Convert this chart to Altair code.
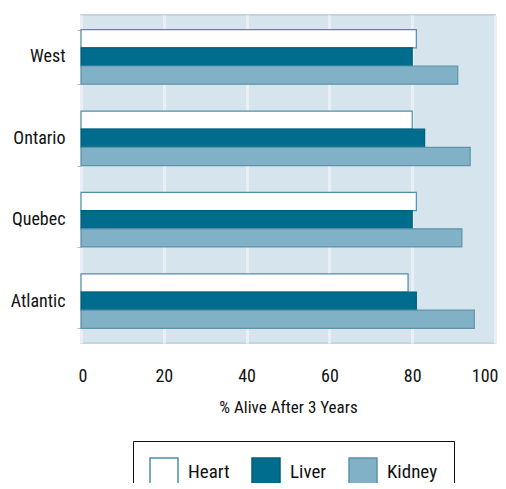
import altair as alt
import pandas as pd

regions = ["West", "Ontario", "Quebec", "Atlantic"]
organs = ["Heart", "Liver", "Kidney"]
heart = [81, 80, 81, 79]
liver = [80, 83, 80, 81]
kidney = [91, 94, 92, 95]

rows = []
for i, r in enumerate(regions):
    for o, vals in zip(organs, [heart, liver, kidney]):
        rows.append({"region": r, "organ": o, "value": vals[i]})
df = pd.DataFrame(rows)

FONT = "Roboto Condensed, Liberation Sans Narrow, DejaVu Sans Condensed, sans-serif"

fill_scale = alt.Scale(domain=organs, range=["#ffffff", "#006d8f", "#80b1c6"])
stroke_scale = alt.Scale(domain=organs, range=["#4f8ea8", "#005f7d", "#5f93aa"])

chart = alt.Chart(df).mark_bar(strokeWidth=1.2).encode(
    y=alt.Y("region:N", sort=regions, title=None,
            scale=alt.Scale(paddingInner=0.33, paddingOuter=0.18),
            axis=alt.Axis(labelFontSize=18, labelFont=FONT, labelColor="#111111",
                          labelFontWeight="normal",
                          domain=False, ticks=True, tickColor="#bbbbbb", tickSize=4,
                          tickBand="extent", labelPadding=12)),
    yOffset=alt.YOffset("organ:N", sort=organs, scale=alt.Scale(paddingInner=0, paddingOuter=0)),
    x=alt.X("value:Q", title="% Alive After 3 Years",
            scale=alt.Scale(domain=[0, 100], nice=False),
            axis=alt.Axis(values=[0, 20, 40, 60, 80, 100], labelFontSize=18, labelFont=FONT,
                          labelColor="#111111", labelFontWeight="normal",
                          titleFont=FONT, titleFontSize=17,
                          titleFontWeight="normal", titleColor="#111111", titlePadding=14,
                          domain=False, ticks=False, labelPadding=24,
                          grid=True, gridColor="#e8f0f5", gridWidth=3,
                          labelFlush=True, labelFlushOffset=3)),
    fill=alt.Fill("organ:N", scale=fill_scale, sort=organs,
                  legend=alt.Legend(title=None, orient="none", legendX=52, legendY=426,
                                    direction="horizontal", symbolType="square",
                                    symbolSize=784, symbolStrokeWidth=1.5,
                                    labelFontSize=19, labelFont=FONT, labelColor="#111111",
                                    labelOffset=9, columnPadding=19, padding=16,
                                    strokeColor="#111111", fillColor="#ffffff",
                                    symbolOpacity=1)),
    stroke=alt.Stroke("organ:N", scale=stroke_scale, sort=organs, legend=None),
).properties(
    width=414, height=328,
    autosize=alt.AutoSizeParams(type="none"),
    padding={"left": 73, "top": 7, "right": 3, "bottom": 140},
).configure(
    background="#ffffff"
).configure_view(
    fill="#d6e5ed", stroke="#c3d6e0", strokeWidth=2
)

chart.save("out.html", embed_options={"renderer": "svg", "actions": False})
